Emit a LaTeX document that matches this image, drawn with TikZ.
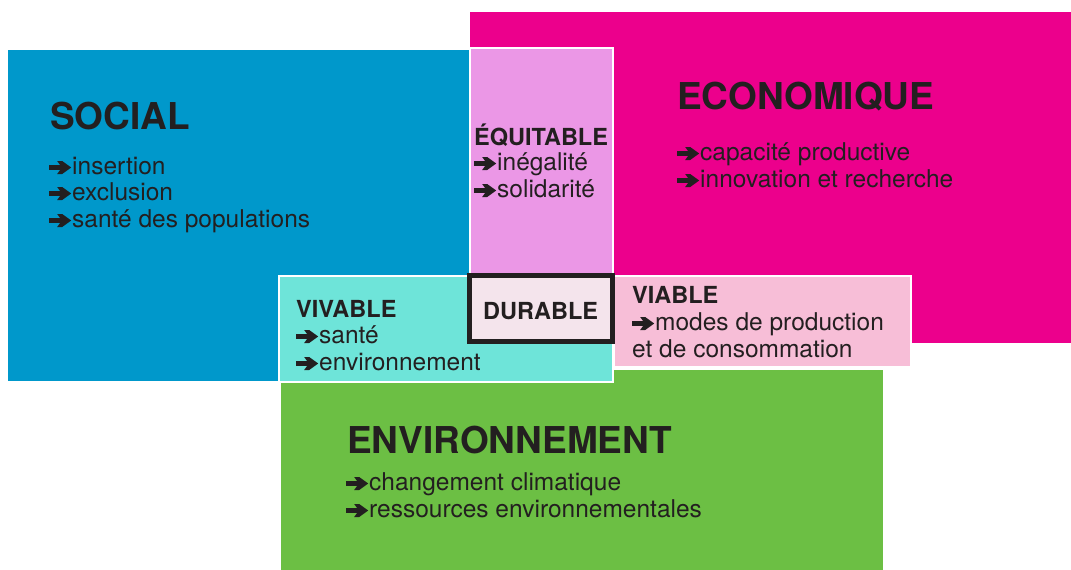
\documentclass[tikz,border=0pt]{standalone}
\usepackage{fontspec}
\setmainfont{TeX Gyre Heros}

\definecolor{bleu}{HTML}{0098CB}
\definecolor{rose}{HTML}{EC008C}
\definecolor{vert}{HTML}{6CBF44}
\definecolor{mauve}{HTML}{EB97E6}
\definecolor{turquoise}{HTML}{6EE4D9}
\definecolor{rosepale}{HTML}{F7BED7}
\definecolor{durfond}{HTML}{F4E4EC}
\definecolor{texte}{HTML}{231F20}

% fleche epaisse devant chaque item
\newcommand\fleche{\tikz[x=1pt, y=1pt, baseline=0pt]
  \fill[texte] (0,4.2) -- (11,4.2) -- (8,0) -- (13,0) -- (22,6.5) -- (13,13) -- (8,13) -- (11,8.8) -- (0,8.8) -- cycle;\hspace{1pt}}

\tikzset{
  zone/.style={draw=white, line width=2pt},
  titre/.style={anchor=base west, inner sep=0pt, text=texte, font=\fontsize{37}{44}\selectfont\bfseries},
  soustitre/.style={anchor=base west, inner sep=0pt, text=texte, font=\fontsize{23.5}{27}\selectfont\bfseries},
  ligne/.style={anchor=base west, inner sep=0pt, text=texte, font=\fontsize{24.5}{27}\selectfont},
}

\begin{document}
\begin{tikzpicture}[x=1pt, y=-1pt]
\useasboundingbox (0,0) rectangle (1071,570);

% les trois piliers
\fill[bleu] (8,50) rectangle (469,381);
\fill[rose] (470,12) rectangle (1071,343);
\fill[vert] (281,370) rectangle (883,570);

% intersections
\filldraw[zone, fill=mauve] (470,48) rectangle (613,276);
\filldraw[zone, fill=turquoise] (279,276) rectangle (613,382);
\filldraw[zone, fill=rosepale] (614,276) rectangle (911,367);
\filldraw[draw=texte, line width=5pt, fill=durfond] (469.5,275.5) rectangle (612.5,341);

% social
\node[titre] (social) at (50,129) {SOCIAL};
\node[ligne] (social1) at (49,174) {\fleche insertion};
\node[ligne] (social2) at (49,200) {\fleche exclusion};
\node[ligne] (social3) at (49,227) {\fleche santé des populations};

% economique
\node[titre] (eco) at (677,109) {ECONOMIQUE};
\node[ligne] (eco1) at (677,160) {\fleche capacité productive};
\node[ligne] (eco2) at (677,187) {\fleche innovation et recherche};

% environnement
\node[titre] (env) at (347,453) {ENVIRONNEMENT};
\node[ligne] (env1) at (346,490) {\fleche changement climatique};
\node[ligne] (env2) at (346,517) {\fleche ressources environnementales};

% equitable
\node[soustitre] (equi) at (474,145) {ÉQUITABLE};
\node[ligne] (equi1) at (474,170) {\fleche inégalité};
\node[ligne] (equi2) at (474,197) {\fleche solidarité};

% vivable
\node[soustitre] (viv) at (296,317) {VIVABLE};
\node[ligne] (viv1) at (296,343) {\fleche santé};
\node[ligne] (viv2) at (296,370) {\fleche environnement};

% viable
\node[soustitre] (via) at (632,303) {VIABLE};
\node[ligne] (via1) at (632,330) {\fleche modes de production};
\node[ligne] (via2) at (632,357) {et de consommation};

% durable
\node[soustitre] (dur) at (483,319) {DURABLE};

\end{tikzpicture}
\end{document}
